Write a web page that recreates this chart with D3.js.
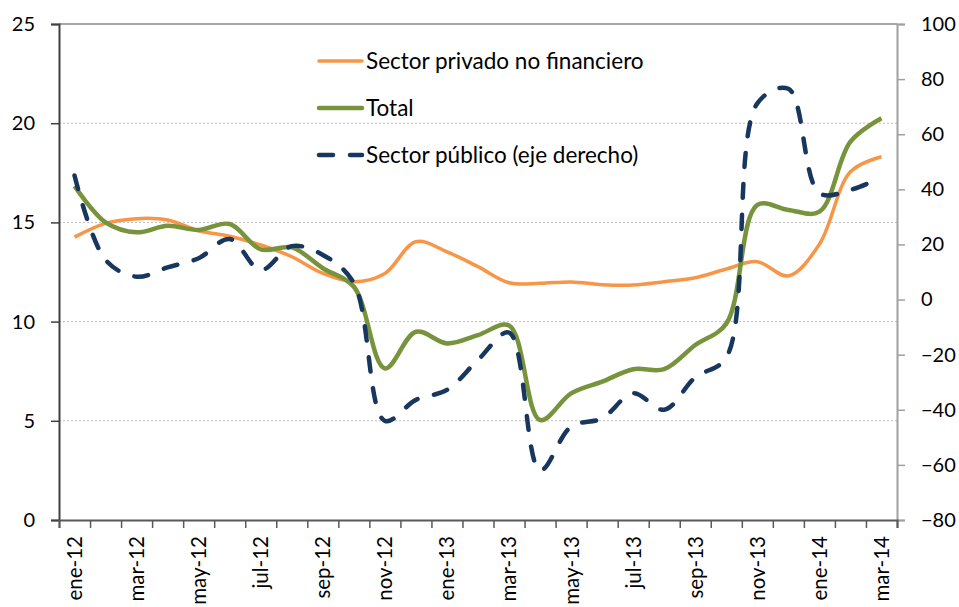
<!DOCTYPE html>
<html>
<head>
<meta charset="utf-8">
<script src="https://cdn.jsdelivr.net/npm/d3@7"></script>
<style>
  html, body { margin: 0; padding: 0; background: #fff; }
  svg { display: block; }
  text { font-family: Lato, "Open Sans", sans-serif; fill: #000; }
</style>
</head>
<body>
<svg id="chart" width="959" height="607"></svg>
<script>
const categories = ["ene-12","feb-12","mar-12","abr-12","may-12","jun-12","jul-12","ago-12","sep-12","oct-12","nov-12","dic-12",
  "ene-13","feb-13","mar-13","abr-13","may-13","jun-13","jul-13","ago-13","sep-13","oct-13","nov-13","dic-13",
  "ene-14","feb-14","mar-14"];
const privado = [14.26,14.95,15.19,15.12,14.58,14.3,13.86,13.27,12.43,12.01,12.43,14.03,
  13.52,12.77,11.96,11.93,12.0,11.86,11.84,12.01,12.21,12.65,13.02,12.3,13.9,17.55,18.31];
const total = [16.83,15.0,14.5,14.83,14.62,14.92,13.64,13.74,12.69,11.76,7.64,9.49,
  8.9,9.32,9.8,5.04,6.38,6.97,7.6,7.6,8.82,9.9,15.88,15.63,15.54,19.07,20.25];
const publico = [45,14.4,8.3,11.7,15.0,22.0,10.7,19.4,16.2,6.0,-44,-36.4,
  -32.8,-21.9,-12,-62,-46.1,-43.1,-34,-40,-28.2,-21,71.2,76.5,38.6,39.8,44.4];
const leftTicks = [0,5,10,15,20,25];
const rightTicks = [-80,-60,-40,-20,0,20,40,60,80,100];
const labelCats = categories.filter((d,i) => i % 2 === 0);
const legendLabels = ["Sector privado no financiero","Total","Sector público (eje derecho)"];

const W = 959, H = 607;
const m = {left: 59, right: 62, top: 24, bottom: 87};
const x0 = m.left, x1 = W - m.right, y0 = H - m.bottom, y1 = m.top;
const svg = d3.select("#chart");

const x = d3.scaleBand().domain(categories).range([x0, x1]).paddingInner(0).paddingOuter(0);
const xb = d3.scaleLinear().domain([0, categories.length]).range([x0, x1]);
const yL = d3.scaleLinear().domain([0, 25]).range([y0, y1]);
const yR = d3.scaleLinear().domain([-80, 100]).range([y0, y1]);
const cx = d => x(d) + x.bandwidth() / 2;

// gridlines
svg.append("g").selectAll("line").data([5,10,15,20]).join("line")
  .attr("x1", x0).attr("x2", x1).attr("y1", d => yL(d)).attr("y2", d => yL(d))
  .attr("stroke", "#bfbfbf").attr("stroke-width", 1).attr("stroke-dasharray", "2,2");

// top border
svg.append("line").attr("x1", x0).attr("x2", x1).attr("y1", y1).attr("y2", y1)
  .attr("stroke", "#a6a6a6").attr("stroke-width", 2);

// left axis
const gL = svg.append("g").attr("transform", `translate(${x0},0)`)
  .call(d3.axisLeft(yL).tickValues(leftTicks).tickSize(8).tickPadding(16).tickFormat(d3.format("d")));
gL.select(".domain").attr("stroke", "#404040").attr("stroke-width", 2);
gL.selectAll(".tick line").attr("stroke", "#404040").attr("stroke-width", 1.5);
gL.selectAll(".tick text").attr("font-size", 20).attr("font-family", "Lato, sans-serif").attr("fill", "#000");

// right axis
const gR = svg.append("g").attr("transform", `translate(${x1},0)`)
  .call(d3.axisRight(yR).tickValues(rightTicks).tickSize(8).tickPadding(16).tickFormat(d3.format("d")));
gR.select(".domain").attr("stroke", "#a0a0a0").attr("stroke-width", 2);
gR.selectAll(".tick line").attr("stroke", "#a0a0a0").attr("stroke-width", 1.5);
gR.selectAll(".tick text").attr("font-size", 20).attr("font-family", "Lato, sans-serif").attr("fill", "#000");

// bottom axis tick marks at category boundaries
const gB = svg.append("g").attr("transform", `translate(0,${y0})`)
  .call(d3.axisBottom(xb).tickValues(d3.range(categories.length + 1)).tickSize(8).tickFormat(""));
gB.select(".domain").attr("stroke", "#595959").attr("stroke-width", 2);
gB.selectAll(".tick line").attr("stroke", "#595959").attr("stroke-width", 1.5);

// bottom labels
const gBL = svg.append("g").attr("transform", `translate(0,${y0})`)
  .call(d3.axisBottom(x).tickValues(labelCats).tickSize(0).tickPadding(0));
gBL.select(".domain").remove();
gBL.selectAll(".tick text")
  .attr("font-size", 20.5).attr("font-family", "Lato, sans-serif").attr("fill", "#000")
  .attr("text-anchor", "end").attr("transform", "rotate(-90)")
  .attr("x", -16).attr("y", 0).attr("dy", "0.36em");

// lines
const curve = d3.curveCatmullRom.alpha(0.5);
const lineL = d3.line().x((d,i) => cx(categories[i])).y(d => yL(d)).curve(curve);
const lineR = d3.line().x((d,i) => cx(categories[i])).y(d => yR(d)).curve(curve);

svg.append("path").datum(privado).attr("d", lineL).attr("fill", "none")
  .attr("stroke", "#F79646").attr("stroke-width", 3.5).attr("stroke-linejoin", "round");
svg.append("path").datum(total).attr("d", lineL).attr("fill", "none")
  .attr("stroke", "#77933C").attr("stroke-width", 4.5).attr("stroke-linejoin", "round");
svg.append("path").datum(publico).attr("d", lineR).attr("fill", "none")
  .attr("stroke", "#17375E").attr("stroke-width", 4.5).attr("stroke-linecap", "round")
  .attr("stroke-dasharray", "14,17");

// legend
const legendStyles = [
  {color: "#F79646", w: 3.5, dash: null},
  {color: "#77933C", w: 4.5, dash: null},
  {color: "#17375E", w: 4.5, dash: "14,17"}
];
const lg = svg.append("g");
legendLabels.forEach((t, i) => {
  const yy = 61 + i * 47;
  const s = legendStyles[i];
  const ln = lg.append("line").attr("x1", 319).attr("x2", 362).attr("y1", yy).attr("y2", yy)
    .attr("stroke", s.color).attr("stroke-width", s.w).attr("stroke-linecap", "round");
  if (s.dash) ln.attr("stroke-dasharray", s.dash);
  lg.append("text").attr("x", 366).attr("y", yy).attr("dy", "0.35em")
    .attr("font-size", 22.5).text(t);
});
</script>
</body>
</html>
